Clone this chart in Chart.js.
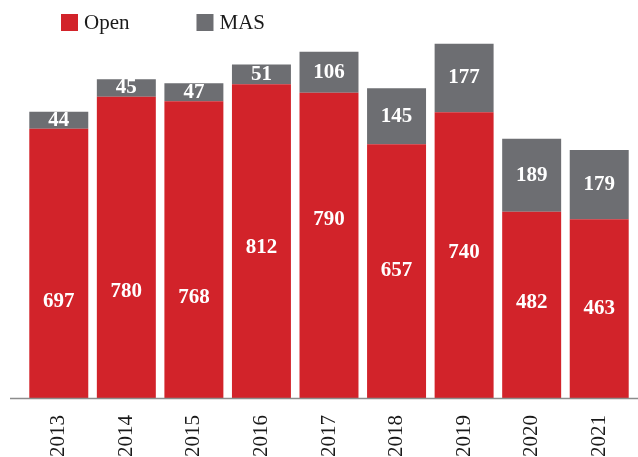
<!DOCTYPE html>
<html>
<head>
<meta charset="utf-8">
<script src="https://cdn.jsdelivr.net/npm/chart.js@4/dist/chart.umd.min.js"></script>
<style>
  html, body { margin: 0; padding: 0; background: #fff; }
  #wrap { width: 638px; height: 457px; }
</style>
</head>
<body>
<div id="wrap"><canvas id="chart"></canvas></div>
<script>
const years = ['2013', '2014', '2015', '2016', '2017', '2018', '2019', '2020', '2021'];
const openValues = [697, 780, 768, 812, 790, 657, 740, 482, 463];
const masValues = [44, 45, 47, 51, 106, 145, 177, 189, 179];

const RED = '#d2232a';
const GREY = '#6d6e72';
const SERIF = '"Liberation Serif", "Times New Roman", serif';

// small nudges (px) for the white labels inside the red segments, as in the original
const openLabelNudge = [38, 44, 48, 6, -26, -1, -2, -2, 0];

// white bold numbers drawn in the middle of each segment
const segmentLabels = {
  id: 'segmentLabels',
  afterDatasetsDraw(chart) {
    const ctx = chart.ctx;
    ctx.save();
    ctx.font = 'bold 21px ' + SERIF;
    ctx.fillStyle = '#fff';
    ctx.textAlign = 'center';
    ctx.textBaseline = 'middle';
    chart.data.datasets.forEach((ds, di) => {
      chart.getDatasetMeta(di).data.forEach((bar, i) => {
        const mid = (bar.y + bar.base) / 2;
        const nudge = di === 0 ? openLabelNudge[i] : 0;
        ctx.fillText(String(ds.data[i]), bar.x, mid + nudge);
      });
    });
    ctx.restore();
  }
};

// baseline under the bars, running out past the first bar
const baseline = {
  id: 'baseline',
  afterDatasetsDraw(chart) {
    const ctx = chart.ctx;
    const y = chart.chartArea.bottom + 0.5;
    ctx.save();
    ctx.strokeStyle = '#8c8c8c';
    ctx.lineWidth = 1.5;
    ctx.beginPath();
    ctx.moveTo(10, y);
    ctx.lineTo(chart.width, y);
    ctx.stroke();
    ctx.restore();
  }
};

// legend drawn by hand so the items can sit far apart on one short row
const topLegend = {
  id: 'topLegend',
  afterDraw(chart) {
    const ctx = chart.ctx;
    ctx.save();
    ctx.font = '21px ' + SERIF;
    ctx.textBaseline = 'middle';
    ctx.textAlign = 'left';
    let x = 61;
    chart.data.datasets.forEach(ds => {
      ctx.fillStyle = ds.backgroundColor;
      ctx.fillRect(x, 14, 17, 17);
      ctx.fillStyle = '#1a1a1a';
      ctx.fillText(ds.label, x + 23, 23);
      x += 23 + ctx.measureText(ds.label).width + 67;
    });
    ctx.restore();
  }
};

new Chart(document.getElementById('chart'), {
  type: 'bar',
  data: {
    labels: years,
    datasets: [
      { label: 'Open', data: openValues, backgroundColor: RED },
      { label: 'MAS', data: masValues, backgroundColor: GREY }
    ]
  },
  options: {
    responsive: true,
    maintainAspectRatio: false,
    animation: false,
    datasets: { bar: { barPercentage: 0.873, categoryPercentage: 1.0 } },
    layout: { padding: { left: 25, right: 5, top: 31, bottom: -9 } },
    scales: {
      x: {
        stacked: true,
        grid: { display: false },
        border: { display: false },
        ticks: {
          minRotation: 90,
          maxRotation: 90,
          padding: 9,
          color: '#1a1a1a',
          font: { family: SERIF, size: 21 }
        }
      },
      y: {
        stacked: true,
        display: false,
        min: 0,
        max: 950
      }
    },
    plugins: {
      legend: { display: false },
      tooltip: { enabled: false }
    }
  },
  plugins: [segmentLabels, baseline, topLegend]
});
</script>
</body>
</html>
